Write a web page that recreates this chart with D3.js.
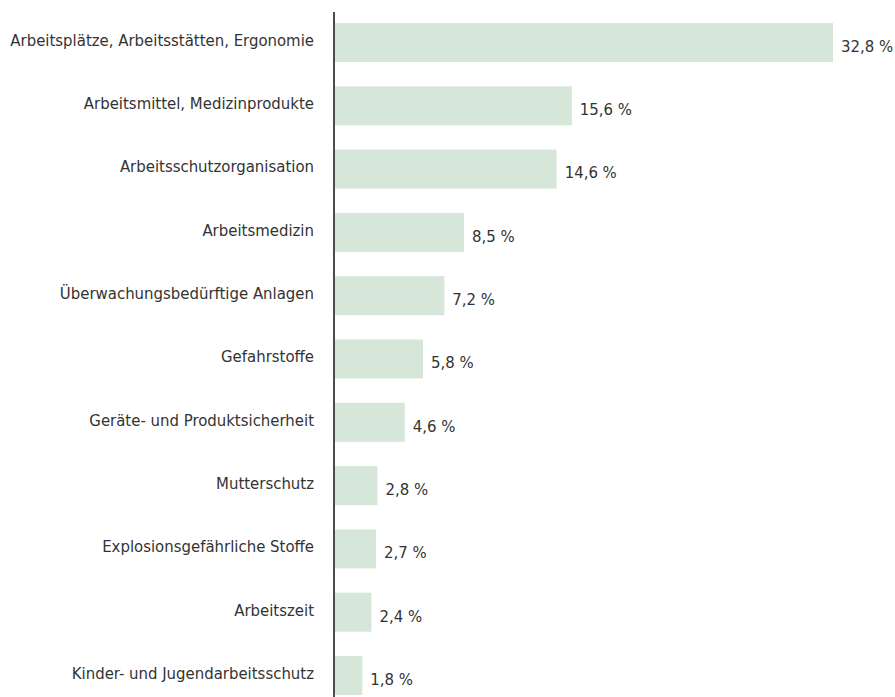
<!DOCTYPE html>
<html>
<head>
<meta charset="utf-8">
<script src="https://cdn.jsdelivr.net/npm/d3@7"></script>
<style>
  body { margin: 0; background: #fff; }
  text { font-family: "DejaVu Sans Condensed", sans-serif; }
</style>
</head>
<body>
<script>
var categories = [
  "Arbeitsplätze, Arbeitsstätten, Ergonomie",
  "Arbeitsmittel, Medizinprodukte",
  "Arbeitsschutzorganisation",
  "Arbeitsmedizin",
  "Überwachungsbedürftige Anlagen",
  "Gefahrstoffe",
  "Geräte- und Produktsicherheit",
  "Mutterschutz",
  "Explosionsgefährliche Stoffe",
  "Arbeitszeit",
  "Kinder- und Jugendarbeitsschutz"
];
var values = [32.8, 15.6, 14.6, 8.5, 7.2, 5.8, 4.6, 2.8, 2.7, 2.4, 1.8];
var valueLabels = ["32,8 %", "15,6 %", "14,6 %", "8,5 %", "7,2 %", "5,8 %", "4,6 %", "2,8 %", "2,7 %", "2,4 %", "1,8 %"];

var width = 895, height = 697;

var svg = d3.select("body").append("svg")
    .attr("width", width)
    .attr("height", height);

var x = d3.scaleLinear()
    .domain([0, 32.8])
    .range([335, 833]);

var y = d3.scaleBand()
    .domain(categories)
    .range([23, 695])
    .paddingInner(0.384)
    .paddingOuter(0);

svg.selectAll("rect.bar")
    .data(values)
  .enter().append("rect")
    .attr("class", "bar")
    .attr("x", x(0))
    .attr("y", function(d, i) { return y(categories[i]); })
    .attr("width", function(d) { return x(d) - x(0); })
    .attr("height", y.bandwidth())
    .attr("fill", "#d6e7da");

// category labels
var yAxis = svg.append("g")
    .attr("transform", "translate(" + x(0) + ",-2)")
    .call(d3.axisLeft(y).tickSize(0).tickPadding(21));

yAxis.select(".domain").remove();
yAxis.selectAll("text")
    .attr("fill", "#333")
    .style("font-size", "16.6px")
    .style("font-family", "'DejaVu Sans Condensed', sans-serif");

// vertical axis line
svg.append("line")
    .attr("x1", x(0) - 1)
    .attr("x2", x(0) - 1)
    .attr("y1", 12)
    .attr("y2", height)
    .attr("stroke", "#111")
    .attr("stroke-width", 1.5);

// value labels
svg.selectAll("text.val")
    .data(values)
  .enter().append("text")
    .attr("class", "val")
    .attr("x", function(d) { return x(d) + 8; })
    .attr("y", function(d, i) { return y(categories[i]) + y.bandwidth() / 2 + 4; })
    .attr("dy", "0.32em")
    .attr("fill", "#333")
    .style("font-size", "16.6px")
    .text(function(d, i) { return valueLabels[i]; });
</script>
</body>
</html>
